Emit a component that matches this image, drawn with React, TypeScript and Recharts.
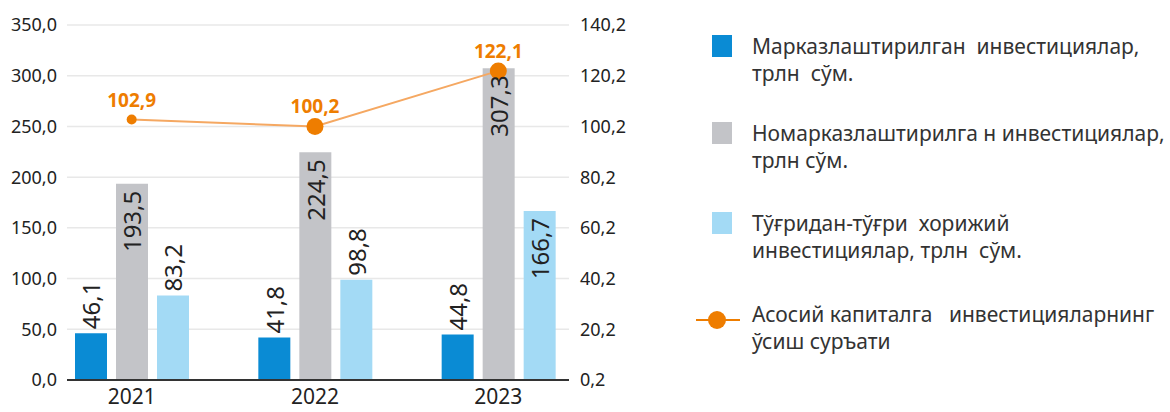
import React from 'react'
import { ComposedChart, Bar, Line, XAxis, YAxis, CartesianGrid, LabelList } from 'recharts'

const years = ['2021', '2022', '2023']
const centralized = [46.1, 41.8, 44.8]
const decentralized = [193.5, 224.5, 307.3]
const foreign = [83.2, 98.8, 166.7]
const growth = [102.9, 100.2, 122.1]
const leftTicks = [0, 50, 100, 150, 200, 250, 300, 350]
const rightTicks = [0.2, 20.2, 40.2, 60.2, 80.2, 100.2, 120.2, 140.2]

const BLUE = '#0A8BD4'
const GREY = '#C3C4C8'
const LIGHT = '#A3DAF5'
const ORANGE = '#EE7D00'
const FONT = '"Noto Sans", sans-serif'

const data = years.map((year, i) => ({
  year,
  centralized: centralized[i],
  decentralized: decentralized[i],
  foreign: foreign[i],
  growth: growth[i],
}))

const fmt = (v: number) => v.toFixed(1).replace('.', ',')

// rotated value label: inside the top of tall bars, above short ones
const BarLabel = (props: any) => {
  const { x, y, width, value } = props
  const cx = x + width / 2
  const inside = value > 150
  const ty = inside ? y + 7 : y - 4
  return (
    <text
      x={cx} y={ty}
      transform={`rotate(-90, ${cx}, ${ty})`}
      textAnchor={inside ? 'end' : 'start'}
      dominantBaseline="central"
      fill="#222" fontSize={24} fontFamily={FONT}
    >
      {fmt(value)}
    </text>
  )
}

const GrowthDot = (props: any) => {
  const { cx, cy, index } = props
  return <circle key={index} cx={cx} cy={cy} r={index === 0 ? 5 : 8.5} fill={ORANGE} />
}

const legendItems = [
  { color: BLUE, lines: ['Марказлаштирилган  инвестициялар,', 'трлн  сўм.'] },
  { color: GREY, lines: ['Номарказлаштирилга н инвестициялар,', 'трлн сўм.'] },
  { color: LIGHT, lines: ['Тўғридан-тўғри  хорижий', 'инвестициялар, трлн  сўм.'] },
]

export default function App() {
  return (
    <div style={{ position: 'absolute', left: 0, top: 0, width: 1170, height: 412, background: '#fff', fontFamily: FONT }}>
      <div style={{ position: 'absolute', left: 0, top: 0 }}>
        <ComposedChart
          width={640} height={412} data={data}
          margin={{ top: 25, right: 11, bottom: 2, left: 8 }}
          barSize={32} barGap={9}
        >
          <CartesianGrid yAxisId="left" vertical={false} stroke="#E8E8E8" strokeWidth={1.5} />
          <XAxis
            dataKey="year" height={30}
            padding={{ left: -27, right: -21 }}
            axisLine={{ stroke: '#333', strokeWidth: 2 }} tickLine={false}
            tick={{ fill: '#222', fontSize: 21, fontFamily: FONT }}
            tickMargin={3}
          />
          <YAxis
            yAxisId="left" width={59} domain={[0, 350]} ticks={leftTicks}
            axisLine={false} tickLine={false} tickMargin={4}
            tickFormatter={fmt}
            tick={{ fill: '#222', fontSize: 18, fontFamily: FONT }}
          />
          <YAxis
            yAxisId="right" orientation="right" width={60} domain={[0.2, 140.2]} ticks={rightTicks}
            axisLine={false} tickLine={false} tickMargin={5}
            tickFormatter={fmt}
            tick={{ fill: '#222', fontSize: 18, fontFamily: FONT, textAnchor: 'start' }}
          />
          <Bar yAxisId="left" dataKey="centralized" fill={BLUE} isAnimationActive={false}>
            <LabelList dataKey="centralized" content={BarLabel} />
          </Bar>
          <Bar yAxisId="left" dataKey="decentralized" fill={GREY} isAnimationActive={false}>
            <LabelList dataKey="decentralized" content={BarLabel} />
          </Bar>
          <Bar yAxisId="left" dataKey="foreign" fill={LIGHT} isAnimationActive={false}>
            <LabelList dataKey="foreign" content={BarLabel} />
          </Bar>
          <Line
            yAxisId="right" dataKey="growth" stroke="#F5A862" strokeWidth={2}
            dot={GrowthDot} activeDot={false} isAnimationActive={false}
          >
            <LabelList
              dataKey="growth" position="top" offset={13}
              formatter={(v: any) => fmt(Number(v))}
              style={{ fill: ORANGE, fontSize: 19, fontWeight: 700, fontFamily: FONT }}
            />
          </Line>
        </ComposedChart>
      </div>

      <div style={{ position: 'absolute', left: 696, top: 0, color: '#333', fontSize: 21, lineHeight: '27px' }}>
        {legendItems.map((item, i) => (
          <div key={i} style={{ position: 'absolute', top: [33, 120, 210][i], left: 0, width: 470 }}>
            <span style={{ position: 'absolute', left: 16, top: 2, width: 20, height: 22, background: item.color }} />
            <div style={{ position: 'absolute', left: 56, top: 0, whiteSpace: 'nowrap' }}>
              {item.lines.map((l, j) => <div key={j} style={{ whiteSpace: 'pre' }}>{l}</div>)}
            </div>
          </div>
        ))}
        <div style={{ position: 'absolute', top: 301, left: 0, width: 470 }}>
          <svg width={44} height={24} style={{ position: 'absolute', left: 0, top: 7 }}>
            <line x1={0} y1={12} x2={44} y2={12} stroke={ORANGE} strokeWidth={2} />
            <circle cx={21} cy={12} r={9} fill={ORANGE} />
          </svg>
          <div style={{ position: 'absolute', left: 56, top: 0, whiteSpace: 'pre' }}>
            <div>Асосий капиталга   инвестицияларнинг</div>
            <div>ўсиш суръати</div>
          </div>
        </div>
      </div>
    </div>
  )
}
